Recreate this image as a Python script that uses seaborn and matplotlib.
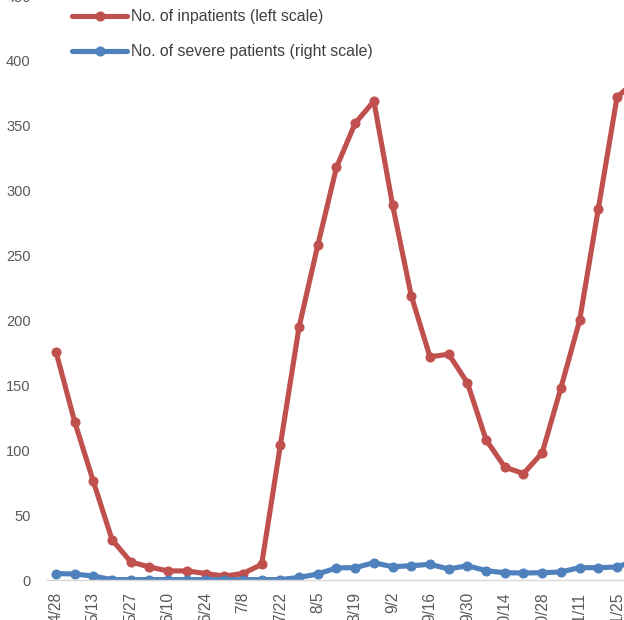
import pandas as pd
import seaborn as sns
import matplotlib.pyplot as plt

# Weekly dates (every other one is labelled on the axis).
dates = ["4/28", "5/6", "5/13", "5/20", "5/27", "6/3", "6/10", "6/17", "6/24", "7/1",
         "7/8", "7/15", "7/22", "7/29", "8/5", "8/12", "8/19", "8/26", "9/2", "9/9",
         "9/16", "9/23", "9/30", "10/7", "10/14", "10/21", "10/28", "11/4", "11/11",
         "11/18", "11/25", "12/2"]
inpatients = [176, 122, 76, 31, 14, 10, 7, 7, 5, 3, 5, 12, 104, 195, 258, 318,
              352, 369, 289, 219, 172, 174, 152, 108, 87, 82, 98, 148, 200, 286,
              372, 385]
severe = [5, 4.6, 3, 0.3, 0.3, 0.3, 0.3, 0.3, 0.3, 0.3, 0.3, 0.3, 0.3, 2, 4.6,
          9.3, 9.5, 13.3, 10.2, 11, 12.1, 8.5, 11, 7.2, 5.6, 5.4, 5.6, 6.2, 9.5,
          9.5, 10, 15]

label_inp = "No. of inpatients (left scale)"
label_sev = "No. of severe patients (right scale)"

if __name__ == "__main__":
    df = pd.DataFrame({"idx": range(len(dates)), "date": dates,
                       "inp": inpatients, "sev": severe})

    sns.set_theme(style="white")
    plt.rcParams["font.family"] = ["Liberation Sans", "DejaVu Sans"]

    fig = plt.figure(figsize=(6.24, 6.2), dpi=100)
    ax = fig.add_axes([46.6 / 624, 40 / 620, (624 - 46.6) / 624, 596.9 / 620])

    red = "#C0504D"
    blue = "#4F81BD"
    sns.lineplot(data=df, x="idx", y="inp", ax=ax, color=red, linewidth=3.7,
                 marker="o", markersize=6.5, markeredgecolor=red, label=label_inp)
    sns.lineplot(data=df, x="idx", y="sev", ax=ax, color=blue, linewidth=3.7,
                 marker="o", markersize=6.5, markeredgecolor=blue, label=label_sev)

    ax.set_xlim(-0.5, (624 - 56) / 18.7)
    ax.set_ylim(0, 460)
    ax.set_yticks(range(0, 451, 50))
    ax.set_xticks(df["idx"][::2])
    ax.set_xticklabels(df["date"][::2], rotation=90, va="top")
    ax.set(xlabel="", ylabel="")
    ax.tick_params(axis="y", length=0, pad=11.5, labelsize=10.5, labelcolor="#595959")
    ax.tick_params(axis="x", length=0, pad=8.5, labelsize=11.2, labelcolor="#595959")

    for side in ["top", "right", "left"]:
        ax.spines[side].set_visible(False)
    ax.spines["bottom"].set_color("#D9D9D9")
    ax.spines["bottom"].set_linewidth(1)

    leg = ax.legend(loc="upper left", bbox_to_anchor=(72 / 624, 0.985),
                    bbox_transform=fig.transFigure, frameon=False, fontsize=11.4,
                    borderpad=0, borderaxespad=0, handlelength=3.5,
                    handletextpad=0.25, labelspacing=1.27)
    for t in leg.get_texts():
        t.set_color("#404040")

    plt.savefig("out.png", dpi=100)
